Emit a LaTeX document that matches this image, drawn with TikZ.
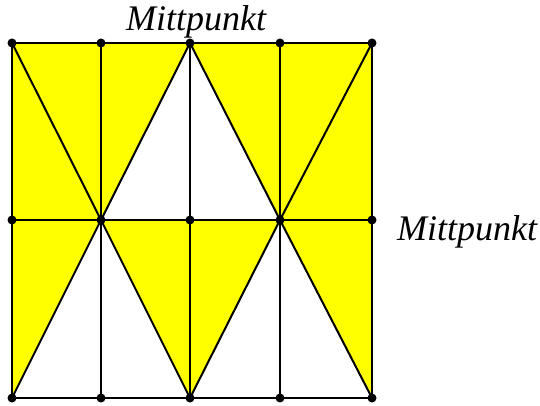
\documentclass[tikz,border=0pt]{standalone}
\usepackage{fontspec}
\setmainfont{Liberation Serif}
\usetikzlibrary{positioning}
\definecolor{areayellow}{RGB}{255,255,0}

\begin{document}
\begin{tikzpicture}[x=1pt, y=-1pt, dot/.style={circle, fill, inner sep=0pt, minimum size=9pt}, edge/.style={line width=2pt}, thinedge/.style={line width=1.5pt}, lbl/.style={font=\itshape\fontsize{36}{40}\selectfont, inner sep=0pt}]
\useasboundingbox (0,0) rectangle (540,406);
% points
\coordinate (t1) at (12,43);
\coordinate (t2) at (101,43);
\coordinate (t3) at (190,43);
\coordinate (t4) at (280,43);
\coordinate (t5) at (372,43);
\coordinate (m1) at (12,220);
\coordinate (m2) at (101,220);
\coordinate (m3) at (190,220);
\coordinate (m4) at (280,220);
\coordinate (m5) at (372,220);
\coordinate (b1) at (12,398);
\coordinate (b2) at (101,398);
\coordinate (b3) at (190,398);
\coordinate (b4) at (280,398);
\coordinate (b5) at (372,398);
% yellow parts
\fill[areayellow] (t1) rectangle (m5);
\fill[white] (t3) -- (m2) -- (m4) -- cycle;
\fill[areayellow] (m1) -- (m2) -- (b1) -- cycle;
\fill[areayellow] (m2) -- (m4) -- (b3) -- cycle;
\fill[areayellow] (m4) -- (m5) -- (b5) -- cycle;
% lines
\draw[thinedge] (t2) -- (m2) -- (b2);
\draw[thinedge] (t3) -- (m3) -- (b3);
\draw[thinedge] (t4) -- (m4) -- (b4);
\draw[edge] (m1) -- (m5);
\draw[edge] (t1) -- (t5) -- (b5) -- (b1) -- cycle;
\draw[edge] (t1) -- (m2) -- (t3) -- (m4) -- (t5);
\draw[edge] (b1) -- (m2) -- (b3) -- (m4) -- (b5);
% dots
\foreach \p in {t1,t2,t3,t4,t5,m1,m2,m3,m4,m5,b1,b2,b3,b4,b5}
  \node[dot] at (\p) {};
% labels
\node[lbl, anchor=base] (toplabel) at (196,31) {Mittpunkt};
\node[lbl, anchor=base west] (rightlabel) at (397,240) {Mittpunkt};
\end{tikzpicture}
\end{document}
